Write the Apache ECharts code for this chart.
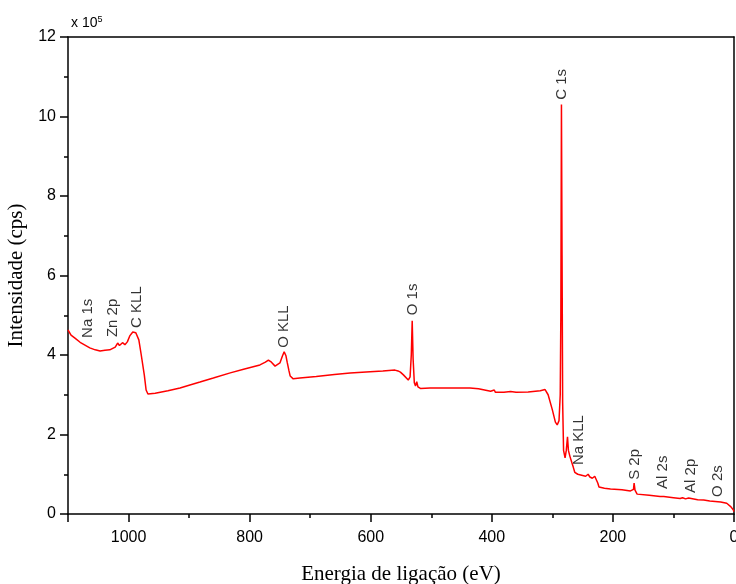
<!DOCTYPE html>
<html>
<head>
<meta charset="utf-8">
<script src="https://cdn.jsdelivr.net/npm/echarts@6/dist/echarts.min.js"></script>
<style>
  html, body { margin: 0; padding: 0; background: #fff; }
  #chart { width: 736px; height: 584px; }
</style>
</head>
<body>
<div id="chart"></div>
<script>
// binding energy (eV) and intensity (x 10^5 cps)
var energy = [1100, 1095, 1088, 1080, 1072, 1064, 1055, 1047, 1039, 1031, 1022, 1018, 1015, 1010, 1006, 1002,
  998, 993, 988, 983, 979, 974, 971, 968, 956, 935, 915, 900, 882, 860, 832, 810, 783, 774, 769, 764, 758,
  750, 746, 743, 740, 738, 735, 733, 728, 717, 690, 660, 634, 601, 580, 560, 555, 551, 546, 543, 538, 535,
  533, 531.5, 530, 528, 526, 524, 522, 518, 502, 470, 436, 422, 402, 396, 394, 380, 369, 360, 340, 320, 312,
  307, 300, 295, 292, 289, 287, 286, 285, 284, 283, 281.5, 279, 277, 275, 273.5, 271, 268, 265.5, 263, 258,
  250, 245, 241, 238, 234, 230, 227, 225, 223, 214, 204, 185, 171, 166, 165, 163.5, 160, 140, 122, 119, 116,
  100, 89, 85, 80, 75, 74, 72, 60, 50, 40, 22, 12, 9, 5, 1, 0];
var intensity = [4.63, 4.5, 4.42, 4.32, 4.25, 4.18, 4.13, 4.10, 4.12, 4.13, 4.2, 4.30, 4.24, 4.31, 4.26, 4.33,
  4.48, 4.58, 4.56, 4.38, 4.0, 3.5, 3.12, 3.02, 3.04, 3.1, 3.17, 3.24, 3.32, 3.42, 3.55, 3.64, 3.75, 3.82, 3.87, 3.82, 3.72,
  3.8, 3.97, 4.08, 3.98, 3.82, 3.6, 3.47, 3.40, 3.42, 3.46, 3.51, 3.55, 3.58, 3.6, 3.62, 3.6, 3.57, 3.5, 3.45, 3.37, 3.45,
  4.0, 4.86, 3.9, 3.3, 3.22, 3.33, 3.2, 3.16, 3.17, 3.17, 3.17, 3.15, 3.09, 3.12, 3.06, 3.06, 3.08, 3.06, 3.07, 3.1, 3.13,
  3.0, 2.62, 2.31, 2.24, 2.35, 3.0, 5.0, 10.3, 6.5, 2.8, 1.6, 1.41, 1.6, 1.94, 1.6, 1.45, 1.3, 1.18, 1.05, 1.0,
  0.97, 0.95, 1.0, 0.93, 0.9, 0.95, 1.0, 0.78, 0.68, 0.65, 0.63, 0.61, 0.58, 0.62, 0.78, 0.6, 0.5, 0.47, 0.44, 0.48, 0.44,
  0.41, 0.39, 0.41, 0.38, 0.4, 0.44, 0.39, 0.36, 0.35, 0.33, 0.30, 0.27, 0.23, 0.18, 0.10, 0.06];

// peak labels: name, energy, intensity where the (rotated) text starts
var peakNames = ['Na 1s', 'Zn 2p', 'C KLL', 'O KLL', 'O 1s', 'C 1s', 'Na KLL', 'S 2p', 'Al 2s', 'Al 2p', 'O 2s'];
var peakEnergy = [1067, 1026, 986, 743, 530, 283.5, 257, 163, 118, 72, 27];
var peakLevel = [4.43, 4.45, 4.68, 4.18, 5.0, 10.42, 1.23, 0.86, 0.63, 0.53, 0.43];

var xTicks = [0, 1100, 200];
var yTicks = [0, 12, 2];

var chart = echarts.init(document.getElementById('chart'));

var spectrum = energy.map(function (e, i) { return [e, intensity[i]]; });
var peaks = peakNames.map(function (n, i) { return { name: n, value: [peakEnergy[i], peakLevel[i]] }; });

var sans = '"Liberation Sans", Arial, sans-serif';
var serif = '"Liberation Serif", "Times New Roman", serif';
var black = { color: '#000', width: 1.5 };

// plain frame axes for the top and right sides of the box
function frameAxis(pos, extra) {
  return Object.assign({
    type: 'value', position: pos,
    axisLine: { show: true, onZero: false, lineStyle: black },
    axisTick: { show: false }, minorTick: { show: false },
    axisLabel: { show: false }, splitLine: { show: false }
  }, extra);
}

chart.setOption({
  animation: false,
  grid: {
    left: 68, right: 2, top: 37, bottom: 70,
    outerBoundsMode: 'none'
  },
  graphic: [{
    type: 'text',
    left: 71, top: 15,
    style: {
      text: '{a|x 10}{b|5}',
      rich: {
        a: { fontFamily: sans, fontSize: 14, fill: '#000' },
        b: { fontFamily: sans, fontSize: 9, fill: '#000', verticalAlign: 'top', padding: [0, 0, 8, 0] }
      }
    }
  }],
  xAxis: [{
    type: 'value',
    inverse: true,
    min: xTicks[0], max: xTicks[1], interval: xTicks[2],
    name: 'Energia de ligação (eV)',
    nameLocation: 'middle',
    nameGap: 50,
    nameTextStyle: { fontFamily: serif, fontSize: 21, color: '#000' },
    axisLine: { show: true, onZero: false, lineStyle: black },
    axisTick: { show: true, inside: false, length: 8, lineStyle: black },
    minorTick: { show: true, splitNumber: 2, length: 4, lineStyle: black },
    axisLabel: {
      fontFamily: sans, fontSize: 16, color: '#000', margin: 16, showMaxLabel: false,
      formatter: function (v) { return String(v); }
    },
    splitLine: { show: false }
  }, frameAxis('top', { inverse: true, min: xTicks[0], max: xTicks[1] })],
  yAxis: [{
    type: 'value',
    min: yTicks[0], max: yTicks[1], interval: yTicks[2],
    name: 'Intensidade (cps)',
    nameLocation: 'middle',
    nameRotate: 90,
    nameGap: 35,
    nameTextStyle: { fontFamily: serif, fontSize: 21, color: '#000' },
    axisLine: { show: true, onZero: false, lineStyle: black },
    axisTick: { show: true, inside: false, length: 8, lineStyle: black },
    minorTick: { show: true, splitNumber: 2, length: 4, lineStyle: black },
    axisLabel: { fontFamily: sans, fontSize: 16, color: '#000', margin: 12 },
    splitLine: { show: false }
  }, frameAxis('right', { min: yTicks[0], max: yTicks[1] })],
  series: [{
    type: 'line',
    data: spectrum,
    showSymbol: false,
    lineStyle: { color: '#ff0000', width: 1.5 },
    itemStyle: { color: '#ff0000' },
    z: 3
  }, {
    type: 'scatter',
    data: peaks,
    symbolSize: 0,
    silent: true,
    label: {
      show: true,
      position: 'inside',
      rotate: 90,
      align: 'left',
      verticalAlign: 'middle',
      formatter: '{b}',
      fontFamily: sans,
      fontSize: 15,
      color: '#000'
    },
    z: 4
  }]
});
</script>
</body>
</html>
